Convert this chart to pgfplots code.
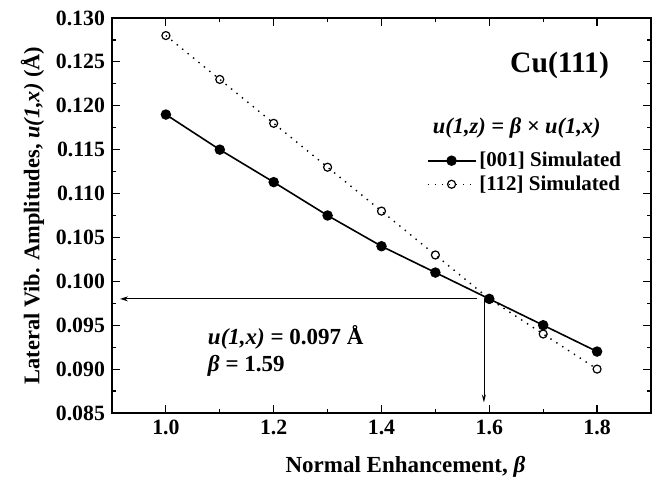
\documentclass[border=0pt]{standalone}
\usepackage{pgfplots}
\pgfplotsset{compat=1.18}
\usepackage{fontspec}
\setmainfont{Liberation Serif}
\usetikzlibrary{arrows.meta}
\pgfplotsset{every axis plot post/.append style={legend image code/.code={\draw[mark repeat=2,mark phase=2,##1] plot coordinates {(0pt,0pt)(12pt,0pt)(24pt,0pt)};}}}
\begin{document}
\begin{tikzpicture}
\useasboundingbox (-56pt,-34.5pt) rectangle (274pt,206.5pt);
\begin{axis}[
  at={(0,0)}, anchor=south west,
  scale only axis, width=269.5pt, height=197.5pt,
  xmin=0.9, xmax=1.9, ymin=0.085, ymax=0.130,
  xtick={1.0,1.2,1.4,1.6,1.8},
  minor xtick={0.9,1.1,1.3,1.5,1.7,1.9},
  ytick={0.085,0.090,...,0.1301},
  minor ytick={0.0875,0.0925,0.0975,0.1025,0.1075,0.1125,0.1175,0.1225,0.1275},
  tick align=inside, tick pos=both,
  major tick length=4pt, minor tick length=2pt,
  axis line style={line width=1pt},
  every tick/.style={black, line width=0.6pt},
  /pgf/number format/assume math mode=true,
  xticklabel style={font=\fontsize{10.9}{11}\selectfont\bfseries, /pgf/number format/.cd, fixed, fixed zerofill, precision=1},
  yticklabel style={font=\fontsize{10.9}{11}\selectfont\bfseries, /pgf/number format/.cd, fixed, fixed zerofill, precision=3},
  scaled y ticks=false,
  xlabel={\fontsize{11.5}{12}\selectfont\bfseries Normal Enhancement, \textit{β}},
  ylabel={\fontsize{11.2}{12}\selectfont\bfseries Lateral Vib. Amplitudes, \textit{u(1,x)} (Å)},
  xlabel style={yshift=-4pt, xshift=12pt},
  ylabel style={yshift=-1pt},
  legend style={draw=none, fill=none, at={(axis cs:1.484,0.1124)}, anchor=west,
    inner sep=0pt, outer sep=0pt,
    font=\fontsize{10.5}{11}\selectfont\bfseries, row sep=0pt,
    legend cell align=left, nodes={inner sep=1.5pt}},
]
\addplot[black, line width=0.8pt, mark=*, mark size=2.2pt] coordinates {
(1.0,0.119) (1.1,0.115) (1.2,0.1113) (1.3,0.1075) (1.4,0.104) (1.5,0.101) (1.6,0.098) (1.7,0.095) (1.8,0.092)};
\addlegendentry{[001] Simulated}
\addplot[black, line width=0.7pt, dash pattern=on 0.7pt off 2.8pt, mark=o, mark size=2pt, mark options={solid, fill=white, line width=0.6pt}] coordinates {
(1.0,0.128) (1.1,0.123) (1.2,0.118) (1.3,0.113) (1.4,0.108) (1.5,0.103) (1.6,0.098) (1.7,0.094) (1.8,0.090)};
\addlegendentry{[112] Simulated}
\draw[-{Stealth[length=4pt,width=2.5pt]}, line width=0.4pt] (axis cs:1.578,0.098) -- (axis cs:0.915,0.098);
\draw[-{Stealth[length=4pt,width=2pt]}, line width=0.4pt] (axis cs:1.59,0.098) -- (axis cs:1.59,0.0862);
\node[anchor=east, font=\fontsize{14.8}{15}\selectfont\bfseries] at (axis cs:1.835,0.1246) {Cu(111)};
\node[anchor=center, font=\fontsize{11.2}{12}\selectfont\bfseries\itshape] at (axis cs:1.651,0.1175) {u(1,z) = β × u(1,x)};
\node[anchor=west, align=left, font=\fontsize{11.5}{13.5}\selectfont\bfseries] at (axis cs:1.065,0.0921) {\textit{u(1,x)} = 0.097 Å\\\textit{β} = 1.59};
\end{axis}
\end{tikzpicture}
\end{document}
